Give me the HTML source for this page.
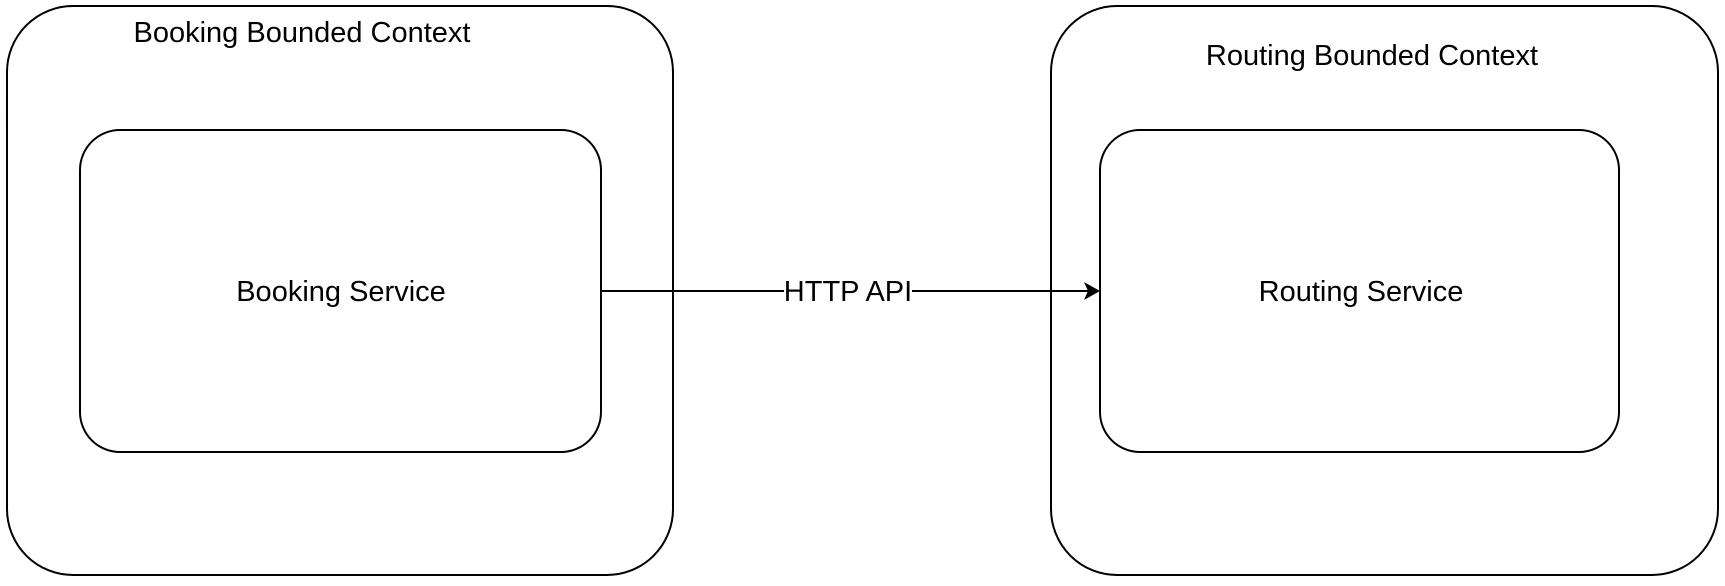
<!DOCTYPE html>
<html><head><style>html,body{margin:0;padding:0;background:#fff;}</style></head>
<body>
<svg width="1725" height="581" viewBox="0 0 1725 581" xmlns="http://www.w3.org/2000/svg" font-family="Liberation Sans, Arial, sans-serif" font-size="29" fill="none">
<rect x="7" y="6" width="666" height="569" rx="66" ry="66" stroke="#000" stroke-width="2"/>
<rect x="80" y="130" width="521" height="322" rx="40" ry="40" stroke="#000" stroke-width="2"/>
<rect x="1051" y="6" width="667" height="569" rx="66" ry="66" stroke="#000" stroke-width="2"/>
<rect x="1100" y="130" width="519" height="322" rx="40" ry="40" stroke="#000" stroke-width="2"/>
<line x1="601" y1="291" x2="1090" y2="291" stroke="#000" stroke-width="2"/>
<polygon points="1100,291 1084,282 1088,291 1084,300" fill="#000"/>
<rect x="784" y="277" width="128" height="28" fill="#fff"/>
<g fill="#000" text-anchor="middle">
<text x="302" y="42">Booking Bounded Context</text>
<text x="1372" y="65">Routing Bounded Context</text>
<text x="341" y="301">Booking Service</text>
<text x="1361" y="301">Routing Service</text>
<text x="848" y="301">HTTP API</text>
</g>
</svg>
</body></html>
